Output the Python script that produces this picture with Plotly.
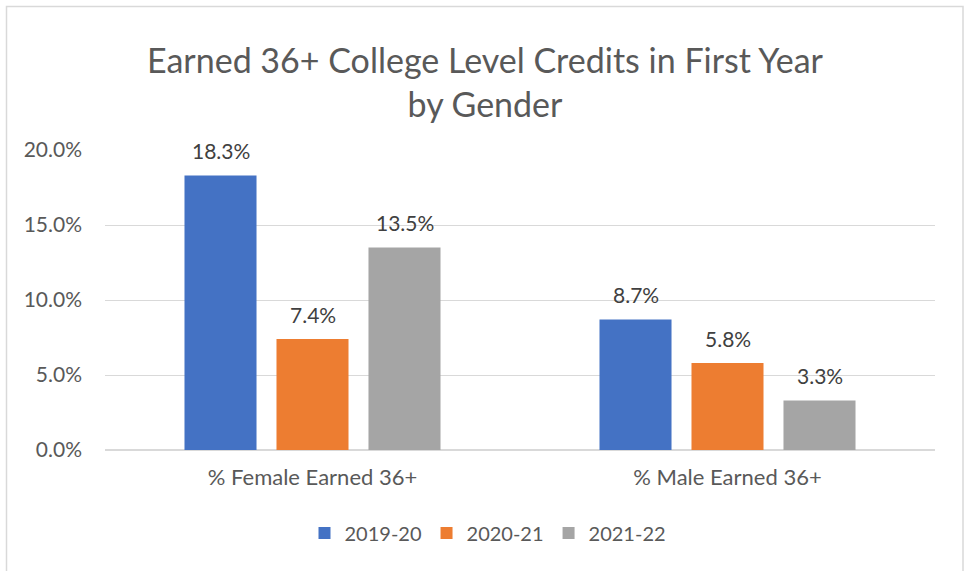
import plotly.graph_objects as go

categories = ["% Female Earned 36+", "% Male Earned 36+"]
series_names = ["2019-20", "2020-21", "2021-22"]
values_2019 = [0.183, 0.087]
values_2020 = [0.074, 0.058]
values_2021 = [0.135, 0.033]
colors = ["#4472C4", "#ED7D31", "#A5A5A5"]
y_ticks = [0, 0.05, 0.10, 0.15, 0.20]

all_values = [values_2019, values_2020, values_2021]
FONT = "Lato"
TXT = "#595959"

fig = go.Figure()
for name, vals, col in zip(series_names, all_values, colors):
    fig.add_trace(go.Bar(x=categories, y=vals, name=name, marker_color=col,
                         marker_line_width=0))

shifts = [-92, 0, 92]
for vals, sh in zip(all_values, shifts):
    for c, v in zip(categories, vals):
        fig.add_annotation(x=c, y=v, text=f"{v*100:.1f}%", showarrow=False,
                           xshift=sh, yshift=25, yanchor="middle",
                           font=dict(family=FONT, size=21, color="#404040"))

W, H = 964, 571
L, R, T, B = 105, 964 - 935, 150, 571 - 450
pw, ph = W - L - R, H - T - B
def px(x):
    return (x - L) / pw
def py(y):
    return (H - B - y) / ph

fig.add_shape(type="rect", xref="paper", yref="paper",
              x0=px(6.5), x1=px(963), y0=py(600), y1=py(6.5),
              line=dict(color="#D9D9D9", width=1.5), fillcolor="rgba(0,0,0,0)",
              layer="below")

fig.update_layout(
    width=W, height=H,
    margin=dict(l=L, r=R, t=T, b=B),
    paper_bgcolor="white", plot_bgcolor="white",
    title=dict(text="Earned 36+ College Level Credits in First Year<br>by Gender",
               x=485 / W, xref="container", xanchor="center",
               y=(H - 73) / H, yanchor="middle",
               font=dict(family=FONT, size=34, color=TXT)),
    barmode="group", bargap=0.335, bargroupgap=0.217,
    font=dict(family=FONT, color=TXT),
    showlegend=True,
    legend=dict(orientation="h", x=488 / W, xanchor="center", xref="container",
                y=(H - 533) / H, yref="container", yanchor="middle",
                font=dict(family=FONT, size=20, color=TXT),
                itemwidth=30, traceorder="normal"),
    xaxis=dict(showgrid=False, showline=False, ticks="",
               tickfont=dict(family=FONT, size=22, color=TXT),
               ticklabelstandoff=12),
    yaxis=dict(range=[0, 0.2], tickvals=y_ticks, tickformat=".1%",
               showgrid=True, gridcolor="#D9D9D9", gridwidth=1,
               zeroline=True, zerolinecolor="#D9D9D9", zerolinewidth=1.5,
               showline=False, ticks="",
               tickfont=dict(family=FONT, size=21, color=TXT),
               ticklabelstandoff=22),
)

fig.write_html("out.html", config={"displayModeBar": False},
               post_script="document.body.style.margin='0';document.body.style.overflow='hidden';")
